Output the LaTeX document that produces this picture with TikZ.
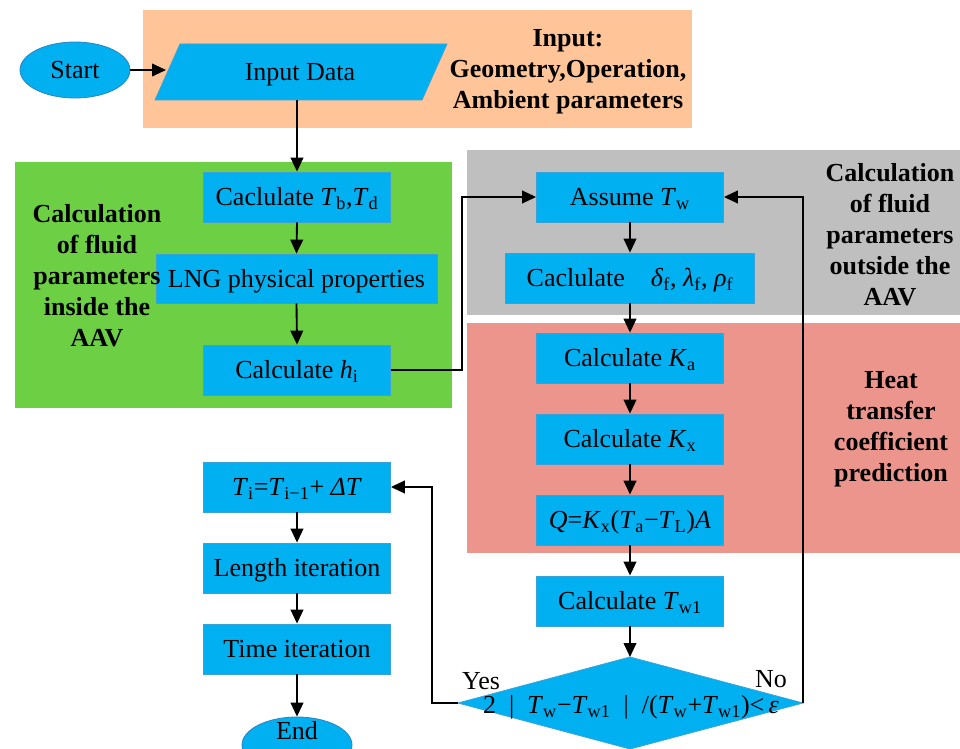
\documentclass[tikz,border=0pt]{standalone}
\usepackage{fontspec}
\setmainfont{Liberation Serif}
\usetikzlibrary{arrows.meta,calc,shapes.geometric}
\definecolor{boxblue}{HTML}{00B0F0}
\definecolor{boxedge}{HTML}{3AA2DA}
\definecolor{ovaledge}{HTML}{2C84C0}
\definecolor{orangebg}{HTML}{FFC599}
\definecolor{greenbg}{HTML}{6CCF44}
\definecolor{graybg}{HTML}{BFBFBF}
\definecolor{redbg}{HTML}{EC958D}
\newcommand{\sbs}[1]{\textsubscript{#1}}
\begin{document}
\begin{tikzpicture}[x=0.75pt,y=-0.75pt,
  every node/.style={font=\fontsize{19.5}{23.4}\selectfont, inner sep=0pt},
  ctr/.style={text height=13pt, text depth=0pt},
  procbox/.style={ctr, draw=boxedge, line width=0.6pt, fill=boxblue, minimum height=37.5pt, minimum width=140.25pt},
  oval/.style={ctr, ellipse, draw=ovaledge, line width=0.6pt, fill=boxblue, minimum width=82.5pt, minimum height=42pt},
  arr/.style={-{Triangle[length=10.5pt,width=9.5pt]}, line width=1.4pt},
  lab/.style={font=\fontsize{19.5}{23.3}\selectfont\bfseries, align=center}
]
\useasboundingbox (0,0) rectangle (960,749);
\fill[white] (0,0) rectangle (960,749);
\fill[orangebg] (143,10) rectangle (692,128);
\fill[greenbg] (15,162) rectangle (452,408);
\fill[graybg] (467,150) rectangle (960,315);
\fill[redbg] (467,323) rectangle (960,553);

% start and input
\node[oval] (start) at (75,70) {Start};
\filldraw[fill=boxblue, draw=boxedge, line width=0.6pt] (155,100) -- (180,44) -- (447,44) -- (422,100) -- cycle;
\node[ctr] (input) at (300,72) {Input Data};
\coordinate (inL) at (166,70);
\coordinate (inB) at (297,100);
\node[lab] (inlab) at (568,72) {Input:\\Geometry,Operation,\\Ambient parameters};

% green block
\node[procbox] (tb) at (297,197) {Caclulate \textit{T}\sbs{b},\textit{T}\sbs{d}};
\node[procbox, minimum width=210.75pt, minimum height=36.75pt] (lng) at (296.5,278.5) {LNG physical properties};
\node[procbox] (hi) at (297,370) {Calculate \textit{h}\sbs{i}};
\node[lab] (glab) at (97,276) {Calculation\\of fluid\\parameters\\inside the\\AAV};

% gray block
\node[procbox] (assume) at (630,197) {Assume \textit{T}\sbs{w}};
\node[procbox, minimum width=186.75pt] (delta) at (630,278) {Caclulate\quad \textit{δ}\sbs{f}, \textit{λ}\sbs{f}, \textit{ρ}\sbs{f}};
\node[lab] (graylab) at (890,235) {Calculation\\of fluid\\parameters\\outside the\\AAV};

% red block
\node[procbox] (ka) at (630,358) {Calculate \textit{K}\sbs{a}};
\node[procbox] (kx) at (630,439) {Calculate \textit{K}\sbs{x}};
\node[procbox] (q) at (630,520) {\textit{Q}=\textit{K}\sbs{x}(\textit{T}\sbs{a}−\textit{T}\sbs{L})\textit{A}};
\node[lab] (redlab) at (891,429) {Heat\\transfer\\coefficient\\prediction};

\node[procbox] (tw1) at (630,601) {Calculate \textit{T}\sbs{w1}};

% decision
\coordinate (dW) at (458,703);
\coordinate (dN) at (630,657);
\coordinate (dE) at (803,703);
\coordinate (dS) at (630,749);
\filldraw[fill=boxblue, draw=boxedge, line width=0.6pt] (dW) -- (dN) -- (dE) -- (dS) -- cycle;
\node[ctr] (cond) at (631,705) {2\enspace|\enspace\textit{T}\sbs{w}−\textit{T}\sbs{w1}\enspace|\enspace/(\textit{T}\sbs{w}+\textit{T}\sbs{w1})<\,\textit{ε}};
\node[ctr] (yes) at (481,681) {Yes};
\node[ctr] (no) at (771,679) {No};

% left bottom column
\node[procbox] (ti) at (297,487) {\textit{T}\sbs{i}=\textit{T}\sbs{i−1}+ \textit{ΔT}};
\node[procbox] (len) at (297,568) {Length iteration};
\node[procbox] (time) at (297,649) {Time iteration};
\node[oval] (end) at (297,745) {};
\node[ctr] (endtxt) at (297,731) {End};

% connectors
\draw[arr] (start.east) -- (inL);
\draw[arr] (inB) -- (tb.north);
\draw[arr] (tb.south) -- (lng.north);
\draw[arr] (lng.south) -- (hi.north);
\draw[arr] (hi.east) -- ++(71,0) |- (assume.west);
\draw[arr] (assume.south) -- (delta.north);
\draw[arr] (delta.south) -- (ka.north);
\draw[arr] (ka.south) -- (kx.north);
\draw[arr] (kx.south) -- (q.north);
\draw[arr] (q.south) -- (tw1.north);
\draw[arr] (tw1.south) -- (dN);
\draw[arr] (dE) |- (assume.east);
\draw[arr] (dW) -- ++(-26,0) |- (ti.east);
\draw[arr] (ti.south) -- (len.north);
\draw[arr] (len.south) -- (time.north);
\draw[arr] (time.south) -- (end.north);
\end{tikzpicture}
\end{document}
